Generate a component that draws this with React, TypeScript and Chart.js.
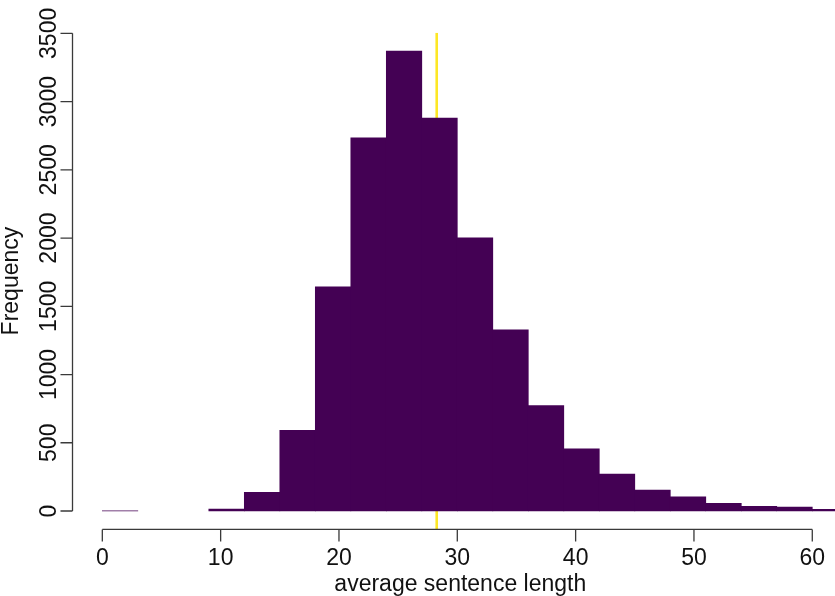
import React, { useEffect, useRef } from "react";
import { Chart, registerables } from "chart.js";

Chart.register(...registerables);

// Histogram bin edges and counts
const binEdges = [0, 3, 6, 9, 12, 15, 18, 21, 24, 27, 30, 33, 36, 39, 42, 45, 48, 51, 54, 57, 60, 63];
const counts = [2, 0, 0, 15, 137, 592, 1642, 2734, 3370, 2879, 2001, 1327, 772, 455, 271, 154, 103, 56, 34, 29, 12];
const meanValue = 28.26;

const xTicks = [0, 10, 20, 30, 40, 50, 60];
const yTicks = [0, 500, 1000, 1500, 2000, 2500, 3000, 3500];
const xTitle = "average sentence length";
const yTitle = "Frequency";

const barColor = "#440154";
const meanColor = "#FDE725";
const FONT = '23px "Liberation Sans", Arial, sans-serif';

const rAxes = {
  id: "rAxes",
  afterDraw(chart: any) {
    const { ctx, chartArea: area } = chart;
    const xs = chart.scales.x;
    const ys = chart.scales.y;
    ctx.save();
    ctx.strokeStyle = "#3a3a3a";
    ctx.lineWidth = 1.3;
    ctx.fillStyle = "#111";
    ctx.font = FONT;

    // x axis
    const axY = area.bottom;
    const xa = xs.getPixelForValue(xTicks[0]);
    const xb = xs.getPixelForValue(xTicks[xTicks.length - 1]);
    ctx.beginPath();
    ctx.moveTo(xa, axY);
    ctx.lineTo(xb, axY);
    for (const t of xTicks) {
      const p = xs.getPixelForValue(t);
      ctx.moveTo(p, axY);
      ctx.lineTo(p, axY + 12);
    }
    ctx.stroke();
    ctx.textAlign = "center";
    ctx.textBaseline = "alphabetic";
    for (const t of xTicks) {
      ctx.fillText(String(t), xs.getPixelForValue(t), axY + 35.5);
    }
    ctx.fillText(xTitle, (xa + xb) / 2 + 3, axY + 62);

    // y axis
    const axX = area.left;
    const ya = ys.getPixelForValue(yTicks[0]);
    const yb = ys.getPixelForValue(yTicks[yTicks.length - 1]);
    ctx.beginPath();
    ctx.moveTo(axX, ya);
    ctx.lineTo(axX, yb);
    for (const t of yTicks) {
      const p = ys.getPixelForValue(t);
      ctx.moveTo(axX, p);
      ctx.lineTo(axX - 12, p);
    }
    ctx.stroke();
    for (const t of yTicks) {
      const p = ys.getPixelForValue(t);
      ctx.save();
      ctx.translate(axX - 16.5, p);
      ctx.rotate(-Math.PI / 2);
      ctx.fillText(String(t), 0, 0);
      ctx.restore();
    }
    ctx.save();
    ctx.translate(17.5, (area.top + area.bottom) / 2);
    ctx.rotate(-Math.PI / 2);
    ctx.fillText(yTitle, 0, 0);
    ctx.restore();

    ctx.restore();
  },
};

export default function App() {
  const ref = useRef<HTMLCanvasElement | null>(null);

  useEffect(() => {
    if (!ref.current) return;
    const barData = counts.map((c, i) => ({
      x: (binEdges[i] + binEdges[i + 1]) / 2,
      y: c > 0 ? c : null,
    }));
    const yLo = -134.8;
    const yHi = 3504.8;
    const xPad = (binEdges[binEdges.length - 1] - binEdges[0]) * 0.04;
    const chart = new Chart(ref.current, {
      type: "bar",
      data: {
        datasets: [
          {
            type: "bar",
            data: barData as any,
            backgroundColor: barColor,
            borderWidth: 0,
            barPercentage: 1,
            categoryPercentage: 1,
          } as any,
          {
            type: "line",
            data: [
              { x: meanValue, y: yLo },
              { x: meanValue, y: yHi },
            ] as any,
            borderColor: meanColor,
            borderWidth: 2.6,
            pointRadius: 0,
            fill: false,
          } as any,
        ],
      },
      options: {
        responsive: false,
        animation: false,
        devicePixelRatio: 1,
        layout: { padding: { left: 72.5, top: 32.7, right: 2.4, bottom: 66.6 } },
        plugins: { legend: { display: false }, tooltip: { enabled: false } },
        scales: {
          x: {
            type: "linear",
            display: false,
            offset: false,
            min: binEdges[0] - xPad,
            max: binEdges[binEdges.length - 1] + xPad,
            afterBuildTicks: (scale: any) => {
              scale.ticks = binEdges.map((v) => ({ value: v }));
            },
          },
          y: {
            type: "linear",
            display: false,
            min: yLo,
            max: yHi,
          },
        },
      },
      plugins: [rAxes],
    });
    return () => chart.destroy();
  }, []);

  return (
    <div
      style={{
        position: "fixed",
        left: 0,
        top: 0,
        width: 835,
        height: 596,
        overflow: "hidden",
        background: "#fff",
      }}
    >
      <canvas ref={ref} width={880} height={596} style={{ display: "block" }} />
    </div>
  );
}
